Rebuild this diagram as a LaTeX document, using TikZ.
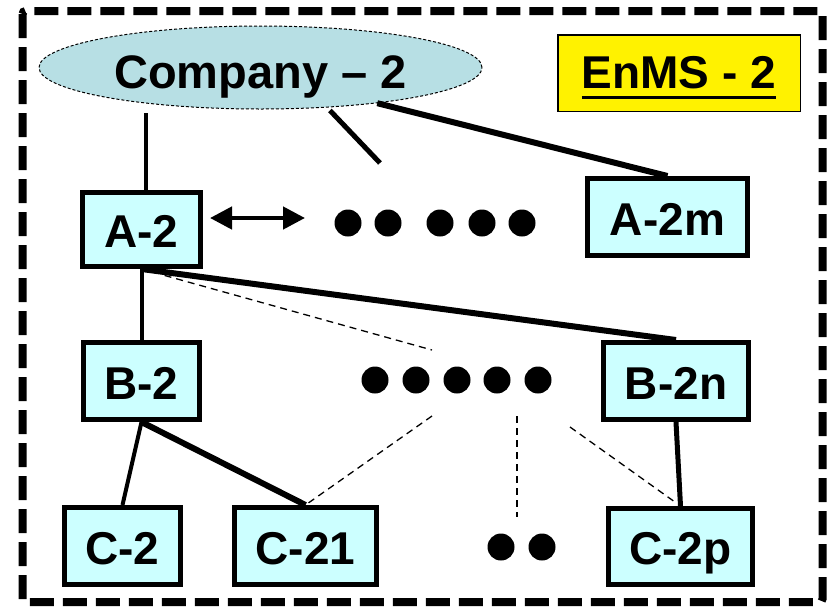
\documentclass[tikz,border=0pt]{standalone}
\usepackage{fontspec}
\setmainfont{Liberation Sans}
\usepackage{tikz}
\usetikzlibrary{arrows.meta}
\usetikzlibrary{shapes.geometric}

\definecolor{boxcyan}{RGB}{204,255,255}
\definecolor{compteal}{RGB}{183,223,228}
\newcommand{\thickul}[1]{\setbox0\hbox{#1}\rlap{\rule[-11pt]{\wd0}{3pt}}\box0}

\tikzset{
	unit/.style={draw, line width=5pt, fill=boxcyan, inner sep=0pt, font=\fontsize{46}{50}\selectfont\bfseries, text height=40pt, text depth=4pt},
	thinlink/.style={line width=4pt},
	thicklink/.style={line width=6pt},
	dotlink/.style={line width=1.3pt, dash pattern=on 7pt off 5pt}
}

\begin{document}
\begin{tikzpicture}[x=1pt,y=-1pt]
		\useasboundingbox (0,0) rectangle (827,606);
		\draw[line width=8pt, dash pattern=on 24pt off 9pt, rounded corners=3pt] (22.5,11) rectangle (822.5,602);
		
		\node[ellipse, draw, line width=1pt, dash pattern=on 3pt off 2pt, fill=compteal, minimum width=443pt, minimum height=83pt, inner sep=0pt, font=\fontsize{47}{50}\selectfont\bfseries, text height=44pt, text depth=3pt] (comp) at (260.5,67.5) {Company \textendash{} 2};
		\node[draw, line width=1.5pt, fill=yellow, minimum width=242.5pt, minimum height=76.5pt, inner sep=0pt, font=\fontsize{46}{50}\selectfont\bfseries, text height=34pt, text depth=4pt] (enms) at (679,73) {\thickul{EnMS - 2}};
		
		\node[unit, minimum width=118pt, minimum height=74pt] (a2) at (141.5,229.5) {A-2};
		\node[unit, minimum width=160pt, minimum height=77pt] (a2m) at (667.5,217) {A-2m};
		\node[unit, minimum width=116pt, minimum height=77pt] (b2) at (141.5,381) {B-2};
		\node[unit, minimum width=145pt, minimum height=77pt] (b2n) at (676,381) {B-2n};
		\node[unit, minimum width=116pt, minimum height=77pt] (c2) at (122.5,546) {C-2};
		\node[unit, minimum width=142pt, minimum height=77pt] (c21) at (305.5,546) {C-21};
		\node[unit, minimum width=144pt, minimum height=76pt] (c2p) at (680.5,546.5) {C-2p};
		
		\coordinate (cmid) at (380,163);
		\coordinate (arrR) at (305,218);
		\coordinate (dA) at (432,350);
		\coordinate (dB) at (432,416);
		\coordinate (dV1) at (517,416);
		\coordinate (dV2) at (517,517);
		\coordinate (dR) at (570,427);
		
		\foreach \x in {348,388,440,482,522} \fill (\x,223) circle (13.5pt);
		\foreach \x in {375,416,457,497,538} \fill (\x,380) circle (13.5pt);
		\foreach \x in {501,542} \fill (\x,547) circle (13.5pt);
		
		\draw[thinlink, shorten >=3pt] ([xshift=4.5pt]a2.north) -- ([xshift=4.5pt]a2.north |- comp.south);
		\draw[line width=5pt, shorten <=4pt] (comp.-31) -- (cmid);
		\draw[thicklink] (comp.-17) -- (a2m.north);
		\draw[{Triangle[length=22pt,width=22pt]}-{Triangle[length=22pt,width=22pt]}, line width=4.5pt] ([yshift=11.5pt,xshift=7pt]a2.east) -- (arrR);
		
		\draw[thinlink] (a2) -- (b2);
		\draw[thicklink] (a2.south) -- (b2n.north);
		\draw[dotlink, shorten <=24pt] (a2.south) -- (dA);
		
		\draw[thinlink] (b2.south) -- (c2.north);
		\draw[thicklink] (b2.south) -- (c21.north);
		\draw[dotlink] (dB) -- (c21.north);
		\draw[dotlink] (dV1) -- (dV2);
		\draw[dotlink, shorten >=7pt] (dR) -- (c2p.north);
		\draw[line width=5pt] (b2n.south) -- (c2p.north);
		
\end{tikzpicture}
\end{document}
